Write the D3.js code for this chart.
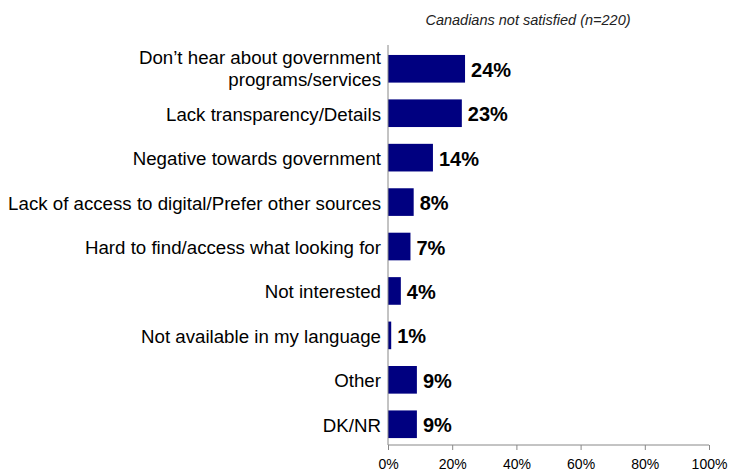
<!DOCTYPE html>
<html>
<head>
<meta charset="utf-8">
<script src="https://cdn.jsdelivr.net/npm/d3@7"></script>
<style>
  html, body { margin: 0; padding: 0; background: #fff; }
  svg { display: block; font-family: "Liberation Sans", Arial, sans-serif; }
</style>
</head>
<body>
<svg id="chart" width="730" height="475"></svg>
<script>
// Reasons for dissatisfaction (share of respondents)
const categories = [
  "Don\u2019t hear about government|programs/services",
  "Lack transparency/Details",
  "Negative towards government",
  "Lack of access to digital/Prefer other sources",
  "Hard to find/access what looking for",
  "Not interested",
  "Not available in my language",
  "Other",
  "DK/NR"
];
const values = [24, 23, 14, 8, 7, 4, 1, 9, 9];
const tickValues = [0, 20, 40, 60, 80, 100];
const subtitle = "Canadians not satisfied (n=220)";

const svg = d3.select("#chart");
const x0 = 388, x1 = 709, yTop = 45, yBot = 445;

const x = d3.scaleLinear().domain([0, 100]).range([x0, x1]);
const y = d3.scaleBand().domain(categories).range([yTop, yBot])
  .paddingInner(0.378).paddingOuter(0.19).align(0.59);

// Subtitle
svg.append("text")
  .attr("x", 528).attr("y", 25)
  .attr("text-anchor", "middle")
  .attr("font-style", "italic")
  .attr("font-size", 14.5)
  .attr("fill", "#222")
  .text(subtitle);

// Bars
svg.append("g").selectAll("rect")
  .data(categories)
  .join("rect")
  .attr("x", x(0))
  .attr("y", d => y(d))
  .attr("width", (d, i) => x(values[i]) - x(0))
  .attr("height", y.bandwidth())
  .attr("fill", "#000080");

// Value labels
svg.append("g").selectAll("text")
  .data(categories)
  .join("text")
  .attr("x", (d, i) => x(values[i]) + 6)
  .attr("y", d => y(d) + y.bandwidth() / 2 + 8)
  .attr("font-size", 20)
  .attr("font-weight", "bold")
  .attr("fill", "#000")
  .text((d, i) => values[i] + "%");

// Category labels (multi-line split on "|")
const lab = svg.append("g").selectAll("text")
  .data(categories)
  .join("text")
  .attr("text-anchor", "end")
  .attr("font-size", 18.7)
  .attr("fill", "#000");
lab.each(function(d) {
  const lines = d.split("|");
  const cy = y(d) + y.bandwidth() / 2;
  const lh = 22.5;
  const off = lines.length > 1 ? 6 : 7.5;
  const t = d3.select(this);
  lines.forEach((ln, k) => {
    t.append("tspan")
      .attr("x", 381)
      .attr("y", cy + off + (k - (lines.length - 1) / 2) * lh)
      .text(ln);
  });
});

// X axis
const xAxis = d3.axisBottom(x)
  .tickValues(tickValues)
  .tickFormat(d => d + "%")
  .tickSize(5)
  .tickPadding(9);
const gx = svg.append("g")
  .attr("transform", `translate(0,${yBot})`)
  .call(xAxis);
gx.select(".domain").attr("stroke", "#888").attr("d", `M${x0},0H${x1}`);
gx.selectAll(".tick line").attr("stroke", "#888");
gx.selectAll(".tick text")
  .attr("font-family", "Liberation Sans, Arial, sans-serif")
  .attr("font-size", 14)
  .attr("fill", "#000");

// Y axis line
svg.append("line")
  .attr("x1", x0).attr("x2", x0)
  .attr("y1", yTop).attr("y2", yBot)
  .attr("stroke", "#888");
</script>
</body>
</html>
